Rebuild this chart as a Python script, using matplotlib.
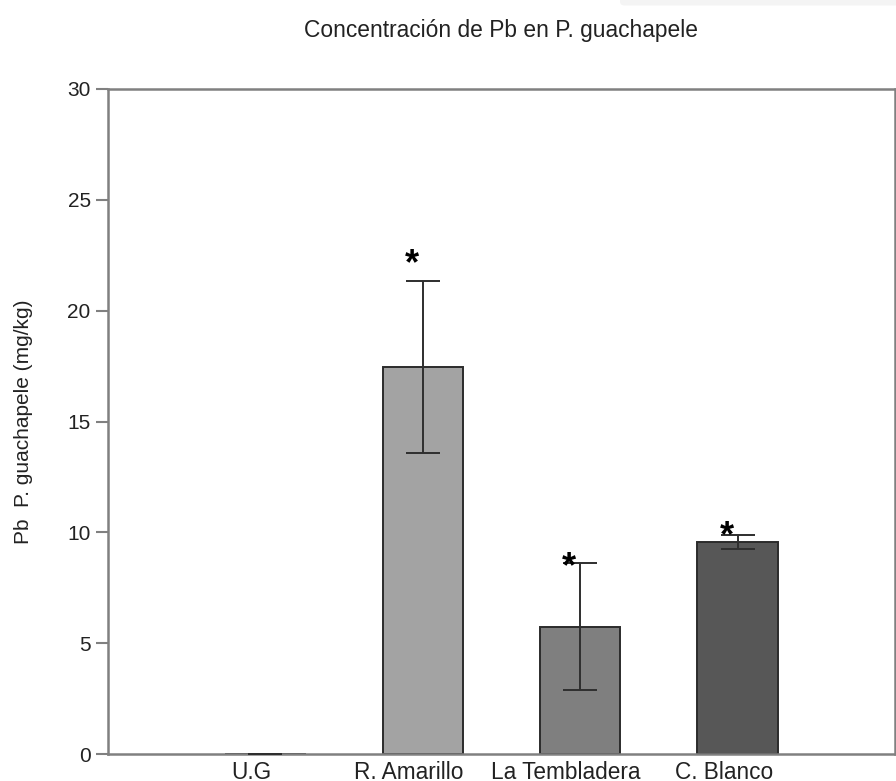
import matplotlib
matplotlib.use("Agg")
import matplotlib.pyplot as plt
import matplotlib.transforms as mtransforms
from matplotlib.patches import FancyBboxPatch

plt.rcParams['font.family'] = ['Liberation Sans', 'DejaVu Sans']

# Data
sites = ["U.G", "R. Amarillo", "La Tembladera", "C. Blanco"]
pb_mean = [0.0, 17.45, 5.75, 9.57]
pb_err = [0.0, 3.87, 2.88, 0.31]
significant = [False, True, True, True]
star_gap = [0.0, 1.19, 0.21, 0.36]
bar_colors = ["#a3a3a3", "#a3a3a3", "#7f7f7f", "#575757"]
y_ticks = [0, 5, 10, 15, 20, 25, 30]

fig = plt.figure(figsize=(8.96, 7.81), dpi=100)
ax = fig.add_axes([108 / 896, 1 - 754 / 781, 787 / 896, 665 / 781])

# faint header strip at the top right
fig.patches.append(FancyBboxPatch((620 / 896, 0.993), 0.32, 0.03,
                                  boxstyle="round,pad=0,rounding_size=0.005",
                                  transform=fig.transFigure, facecolor="#f4f4f4",
                                  edgecolor="none"))

x = list(range(len(sites)))
ax.bar(x, pb_mean, width=0.51, color=bar_colors, edgecolor="#2b2b2b", linewidth=1.4, zorder=2)
ax.errorbar(x, pb_mean, yerr=pb_err, fmt="none", ecolor="#2e2e2e", elinewidth=1.4,
            capsize=12, capthick=1.4, zorder=3)

# significance markers, nudged left of the bar centre
star_off = mtransforms.ScaledTranslation(-11 / 100, -10 / 100, fig.dpi_scale_trans)
for xi, m, e, g, s in zip(x, pb_mean, pb_err, star_gap, significant):
    if s:
        ax.text(xi, m + e + g, "*", ha="center", va="center", fontsize=26,
                fontweight="bold", color="black", transform=ax.transData + star_off, zorder=4)

ax.set_xlim(-1, 4)
ax.set_ylim(0, 30)
ax.set_yticks(y_ticks)
ax.set_yticklabels([str(t) for t in y_ticks], fontsize=15, color="#222222")
ax.set_xticks(x)
ax.set_xticklabels(sites, fontsize=16.3, color="#222222")
ax.tick_params(axis="x", length=0, pad=5)
ax.tick_params(axis="y", length=9, width=1.5, color="#808080", pad=3.5)
lab_off = mtransforms.ScaledTranslation(-14 / 100, 0, fig.dpi_scale_trans)
for lab in ax.get_xticklabels():
    lab.set_transform(lab.get_transform() + lab_off)

for sp in ax.spines.values():
    sp.set_color("#808080")
    sp.set_linewidth(1.8)

ax.set_ylabel("Pb  P. guachapele (mg/kg)", fontsize=15, color="#222222")
ax.yaxis.set_label_coords(-0.095, 0.5)
fig.text(501 / 896, 1 - 30 / 781, "Concentración de Pb en P. guachapele", ha="center",
         va="center", fontsize=16.4, color="#222222")

fig.savefig("out.png", dpi=100)
